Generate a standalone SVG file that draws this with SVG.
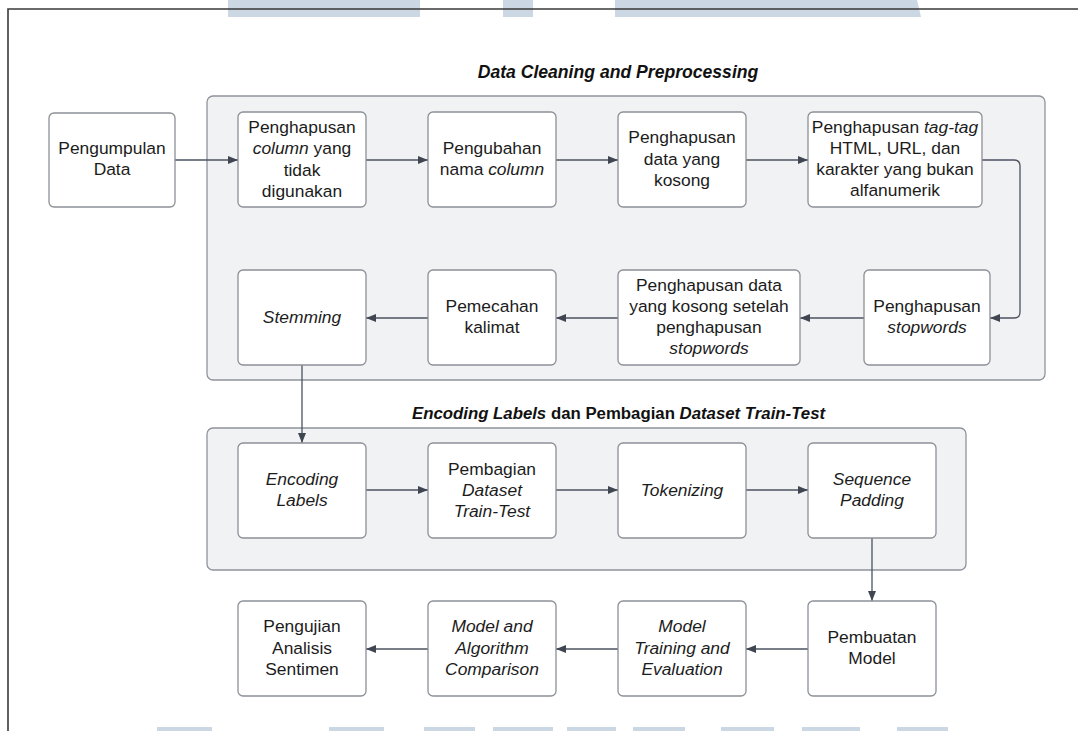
<svg xmlns="http://www.w3.org/2000/svg" width="1078" height="731" viewBox="0 0 1078 731">
<defs>
<style>
.wm{fill:#cbd7e2;stroke:none}
.frame{fill:none;stroke:#3a3a3a;stroke-width:1.6}
.cont{fill:#f1f2f4;stroke:#8f949b;stroke-width:1.3}
.node{fill:#ffffff;stroke:#8c9097;stroke-width:1.3}
.t{font-family:"Liberation Sans",Arial,sans-serif;font-size:17.4px;fill:#1c1c1c;text-anchor:middle}
.ttl{font-family:"Liberation Sans",Arial,sans-serif;font-weight:bold;fill:#111;text-anchor:middle}
.i{font-style:italic}
.con{fill:none;stroke:#4b5260;stroke-width:1.3}
</style>
<marker id="ah" viewBox="0 0 10 8" refX="10" refY="4" markerWidth="10" markerHeight="8" markerUnits="userSpaceOnUse" orient="auto">
<path d="M0,0 L10,4 L0,8 Z" fill="#3f4652"/>
</marker>
</defs>
<rect width="1078" height="731" fill="#ffffff"/>
<g id="watermark">
<rect class="wm" x="228" y="0" width="192" height="17"/>
<rect class="wm" x="503" y="0" width="30" height="17"/>
<polygon class="wm" points="615,0 917,0 921,17 615,17"/>
<rect class="wm" x="157" y="727" width="55" height="4"/>
<rect class="wm" x="329" y="727" width="55" height="4"/>
<rect class="wm" x="424" y="727" width="51" height="4"/>
<rect class="wm" x="493" y="727" width="60" height="4"/>
<rect class="wm" x="567" y="727" width="49" height="4"/>
<rect class="wm" x="633" y="727" width="52" height="4"/>
<rect class="wm" x="721" y="727" width="53" height="4"/>
<rect class="wm" x="802" y="727" width="58" height="4"/>
<rect class="wm" x="897" y="727" width="51" height="4"/>
</g>
<path class="frame" d="M8,731 V9 H1078"/>
<g id="group-cleaning">
<text class="ttl i" x="618" y="78" font-size="17.6">Data Cleaning and Preprocessing</text>
<rect class="cont" x="207" y="96" width="838" height="284" rx="6"/>
</g>
<g id="group-encoding">
<text class="ttl" x="618.5" y="419" font-size="16.8"><tspan class="i">Encoding Labels</tspan> dan Pembagian <tspan class="i">Dataset Train-Test</tspan></text>
<rect class="cont" x="207" y="428" width="759" height="142" rx="6"/>
</g>
<g id="connectors">
<path class="con" d="M175,160 H238" marker-end="url(#ah)"/>
<path class="con" d="M366,160 H428" marker-end="url(#ah)"/>
<path class="con" d="M556,160 H618" marker-end="url(#ah)"/>
<path class="con" d="M746,160 H808" marker-end="url(#ah)"/>
<path class="con" d="M982,160 H1014 Q1020,160 1020,166 V312 Q1020,318 1014,318 H990" marker-end="url(#ah)"/>
<path class="con" d="M864,318 H800" marker-end="url(#ah)"/>
<path class="con" d="M618,318 H556" marker-end="url(#ah)"/>
<path class="con" d="M428,318 H366" marker-end="url(#ah)"/>
<path class="con" d="M302,365 V443" marker-end="url(#ah)"/>
<path class="con" d="M366,490 H428" marker-end="url(#ah)"/>
<path class="con" d="M556,490 H618" marker-end="url(#ah)"/>
<path class="con" d="M746,490 H808" marker-end="url(#ah)"/>
<path class="con" d="M872,538 V601" marker-end="url(#ah)"/>
<path class="con" d="M808,649 H746" marker-end="url(#ah)"/>
<path class="con" d="M618,649 H556" marker-end="url(#ah)"/>
<path class="con" d="M428,649 H366" marker-end="url(#ah)"/>
</g>
<g id="n-pengumpulan">
<rect class="node" x="49" y="113" width="126" height="94" rx="5"/>
<text class="t"><tspan x="112" y="154">Pengumpulan</tspan><tspan x="112" y="175">Data</tspan></text>
</g>
<g id="n-hapus-column">
<rect class="node" x="238" y="112" width="128" height="95" rx="5"/>
<text class="t"><tspan x="302" y="132.5">Penghapusan</tspan><tspan x="302" y="154"><tspan class="i">column</tspan> yang</tspan><tspan x="302" y="175.5">tidak</tspan><tspan x="302" y="197">digunakan</tspan></text>
</g>
<g id="n-ubah-nama">
<rect class="node" x="428" y="112" width="128" height="95" rx="5"/>
<text class="t"><tspan x="492" y="153.5">Pengubahan</tspan><tspan x="492" y="175">nama <tspan class="i">column</tspan></tspan></text>
</g>
<g id="n-hapus-kosong">
<rect class="node" x="618" y="112" width="128" height="95" rx="5"/>
<text class="t"><tspan x="682" y="143">Penghapusan</tspan><tspan x="682" y="164.5">data yang</tspan><tspan x="682" y="186">kosong</tspan></text>
</g>
<g id="n-hapus-tag">
<rect class="node" x="808" y="112" width="174" height="95" rx="5"/>
<text class="t"><tspan x="895" y="132.5">Penghapusan <tspan class="i">tag-tag</tspan></tspan><tspan x="895" y="153.5">HTML, URL, dan</tspan><tspan x="895" y="174.5">karakter yang bukan</tspan><tspan x="895" y="195.5">alfanumerik</tspan></text>
</g>
<g id="n-stopwords">
<rect class="node" x="864" y="270" width="126" height="95" rx="5"/>
<text class="t"><tspan x="927" y="312">Penghapusan</tspan><tspan x="927" y="333" class="i">stopwords</tspan></text>
</g>
<g id="n-kosong-setelah">
<rect class="node" x="618" y="270" width="182" height="95" rx="5"/>
<text class="t"><tspan x="709" y="290.5">Penghapusan data</tspan><tspan x="709" y="311.5">yang kosong setelah</tspan><tspan x="709" y="332.5">penghapusan</tspan><tspan x="709" y="353.5" class="i">stopwords</tspan></text>
</g>
<g id="n-pemecahan">
<rect class="node" x="428" y="270" width="128" height="95" rx="5"/>
<text class="t"><tspan x="492" y="312">Pemecahan</tspan><tspan x="492" y="333">kalimat</tspan></text>
</g>
<g id="n-stemming">
<rect class="node" x="238" y="270" width="128" height="95" rx="5"/>
<text class="t i" x="302" y="322.5">Stemming</text>
</g>
<g id="n-encoding">
<rect class="node" x="238" y="443" width="128" height="95" rx="5"/>
<text class="t i"><tspan x="302" y="485">Encoding</tspan><tspan x="302" y="506">Labels</tspan></text>
</g>
<g id="n-pembagian">
<rect class="node" x="428" y="443" width="128" height="95" rx="5"/>
<text class="t"><tspan x="492" y="474.5">Pembagian</tspan><tspan x="492" y="495.5" class="i">Dataset</tspan><tspan x="492" y="516.5" class="i">Train-Test</tspan></text>
</g>
<g id="n-tokenizing">
<rect class="node" x="618" y="443" width="128" height="95" rx="5"/>
<text class="t i" x="682" y="495.5">Tokenizing</text>
</g>
<g id="n-padding">
<rect class="node" x="808" y="443" width="128" height="95" rx="5"/>
<text class="t i"><tspan x="872" y="485">Sequence</tspan><tspan x="872" y="506">Padding</tspan></text>
</g>
<g id="n-pembuatan">
<rect class="node" x="808" y="601" width="128" height="95" rx="5"/>
<text class="t"><tspan x="872" y="643">Pembuatan</tspan><tspan x="872" y="664">Model</tspan></text>
</g>
<g id="n-training">
<rect class="node" x="618" y="601" width="128" height="95" rx="5"/>
<text class="t i"><tspan x="682" y="632">Model</tspan><tspan x="682" y="653.5">Training and</tspan><tspan x="682" y="675">Evaluation</tspan></text>
</g>
<g id="n-comparison">
<rect class="node" x="428" y="601" width="128" height="95" rx="5"/>
<text class="t i"><tspan x="492" y="632">Model and</tspan><tspan x="492" y="653.5">Algorithm</tspan><tspan x="492" y="675">Comparison</tspan></text>
</g>
<g id="n-pengujian">
<rect class="node" x="238" y="601" width="128" height="95" rx="5"/>
<text class="t"><tspan x="302" y="632">Pengujian</tspan><tspan x="302" y="653.5">Analisis</tspan><tspan x="302" y="675">Sentimen</tspan></text>
</g>
</svg>
